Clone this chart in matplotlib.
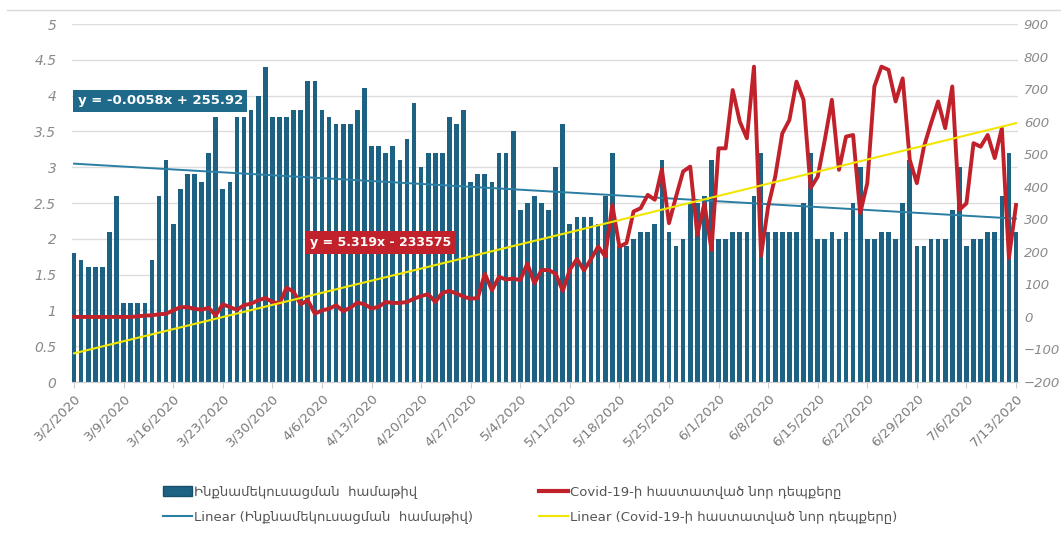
import numpy as np
import pandas as pd
import matplotlib
matplotlib.use('Agg')
import matplotlib.pyplot as plt
from matplotlib.lines import Line2D
from matplotlib.patches import Patch

# daily values, 3/2/2020 .. 7/13/2020
dates = pd.date_range('2020-03-02', '2020-07-13', freq='D')

isolation_index = [
    1.8, 1.7, 1.6, 1.6, 1.6, 2.1, 2.6, 1.1, 1.1, 1.1, 1.1, 1.7, 2.6, 3.1,
    2.2, 2.7, 2.9, 2.9, 2.8, 3.2, 3.7, 2.7, 2.8, 3.7, 3.7, 3.8, 4.0, 4.4,
    3.7, 3.7, 3.7, 3.8, 3.8, 4.2, 4.2, 3.8, 3.7, 3.6, 3.6, 3.6, 3.8, 4.1,
    3.3, 3.3, 3.2, 3.3, 3.1, 3.4, 3.9, 3.0, 3.2, 3.2, 3.2, 3.7, 3.6, 3.8,
    2.8, 2.9, 2.9, 2.8, 3.2, 3.2, 3.5, 2.4, 2.5, 2.6, 2.5, 2.4, 3.0, 3.6,
    2.2, 2.3, 2.3, 2.3, 2.2, 2.6, 3.2, 1.9, 1.9, 2.0, 2.1, 2.1, 2.2, 3.1,
    2.1, 1.9, 2.0, 2.5, 2.5, 2.6, 3.1, 2.0, 2.0, 2.1, 2.1, 2.1, 2.6, 3.2,
    2.1, 2.1, 2.1, 2.1, 2.1, 2.5, 3.2, 2.0, 2.0, 2.1, 2.0, 2.1, 2.5, 3.0,
    2.0, 2.0, 2.1, 2.1, 2.0, 2.5, 3.1, 1.9, 1.9, 2.0, 2.0, 2.0, 2.4, 3.0,
    1.9, 2.0, 2.0, 2.1, 2.1, 2.6, 3.2, 2.1,
]

new_cases = [
    0, 0, 0, 0, 0, 0, 0, 0, 0, 2, 4, 5, 8, 10,
    20, 30, 30, 25, 22, 28, 5, 39, 30, 22, 36, 41, 51, 58,
    46, 41, 90, 77, 39, 51, 10, 20, 25, 36, 18, 28, 44, 39,
    26, 31, 46, 43, 43, 46, 56, 64, 70, 46, 74, 80, 72, 62,
    56, 58, 133, 82, 123, 115, 118, 113, 164, 103, 144, 144, 133, 80,
    145, 178, 143, 178, 216, 186, 344, 216, 227, 324, 334, 375, 360, 454,
    288, 370, 447, 462, 252, 349, 206, 518, 518, 697, 600, 549, 769, 188,
    339, 431, 564, 605, 723, 667, 396, 431, 544, 667, 452, 554, 559, 319,
    411, 708, 769, 759, 662, 733, 482, 411, 523, 595, 662, 580, 708, 329,
    349, 534, 523, 559, 488, 580, 181, 344,
]

bar_label = 'Ինքնամեկուսացման  համաթիվ'
line_label = 'Covid-19-ի հաստատված նոր դեպքերը'
eq_bar = 'y = -0.0058x + 255.92'
eq_line = 'y = 5.319x - 233575'

x = np.arange(len(dates))
tick_idx = x[::7]
tick_labels = [f'{d.month}/{d.day}/{d.year}' for d in dates[::7]]

teal = '#1e6283'
trend_blue = '#2a7ea3'
red = '#c0212b'
yellow = '#f2e600'
grey_txt = '#8a8a8a'

fig = plt.figure(figsize=(10.61, 5.37), dpi=100)
ax = fig.add_axes([0.0676, 0.2886, 0.8922, 0.6667])
ax2 = ax.twinx()

ax.bar(x, isolation_index, width=0.66, color=teal, zorder=2)
b = np.polyfit(x, isolation_index, 1)
ax.plot(x, np.polyval(b, x), color=trend_blue, lw=1.4, zorder=3)

ax2.plot(x, new_cases, color=red, lw=2.8, solid_joinstyle='round', zorder=3)
c = np.polyfit(x, new_cases, 1)
ax2.plot(x, np.polyval(c, x), color=yellow, lw=1.5, zorder=4)

ax.set_xlim(-0.33, len(x) - 0.67)
ax.set_ylim(0, 5)
ax.set_yticks(np.arange(0, 5.01, 0.5))
ax.set_yticklabels(['0', '0.5', '1', '1.5', '2', '2.5', '3', '3.5', '4', '4.5', '5'])
ax2.set_ylim(-200, 900)
ax2.set_yticks(range(-200, 901, 100))

ax.grid(axis='y', color='#dcdcdc', lw=1, zorder=0)
ax.set_axisbelow(True)
for a in (ax, ax2):
    for s in a.spines.values():
        s.set_visible(False)
ax.spines['bottom'].set_visible(True)
ax.spines['bottom'].set_color('#cfcfcf')

ax.set_xticks(tick_idx)
ax.set_xticklabels(tick_labels, rotation=45, ha='right', rotation_mode='anchor',
                   fontsize=9.5, color='#7a7a7a')
ax.tick_params(axis='x', length=4, color='#cfcfcf', pad=3)
ax.tick_params(axis='y', length=0, labelsize=10, labelcolor=grey_txt, pad=11)
ax2.tick_params(axis='y', length=0, labelsize=9.5, labelcolor=grey_txt, pad=4)
for lab in ax.get_yticklabels() + ax2.get_yticklabels():
    lab.set_fontstyle('italic')

ax2.text(0.5, 3.93, eq_bar, transform=ax.transData, ha='left', va='center',
         fontsize=9.5, fontweight='bold', color='white', zorder=10,
         bbox=dict(boxstyle='square,pad=0.35', fc='#1f6a8a', ec='none'))
ax2.text(33.3, 1.955, eq_line, transform=ax.transData, ha='left', va='center',
         fontsize=9, fontweight='bold', color='white', zorder=10,
         bbox=dict(boxstyle='square,pad=0.4', fc='#c0212b', ec='none'))

handles = [
    Patch(facecolor=teal, edgecolor='#17506b'),
    Line2D([], [], color=trend_blue, lw=1.5),
    Line2D([], [], color=red, lw=3),
    Line2D([], [], color=yellow, lw=1.5),
]
labels = [bar_label, 'Linear (' + bar_label + ')', line_label, 'Linear (' + line_label + ')']
fig.legend(handles, labels, ncol=2, loc='center', bbox_to_anchor=(0.50, 0.06),
           frameon=False, fontsize=9.5, labelcolor='#555555', columnspacing=5.0,
           handlelength=2.2, handletextpad=0.15, labelspacing=0.95)

fig.add_artist(Line2D([7 / 1061, 1], [1 - 10 / 537, 1 - 10 / 537],
                      transform=fig.transFigure, color='#d9d9d9', lw=1))

plt.savefig('out.png', dpi=100)
